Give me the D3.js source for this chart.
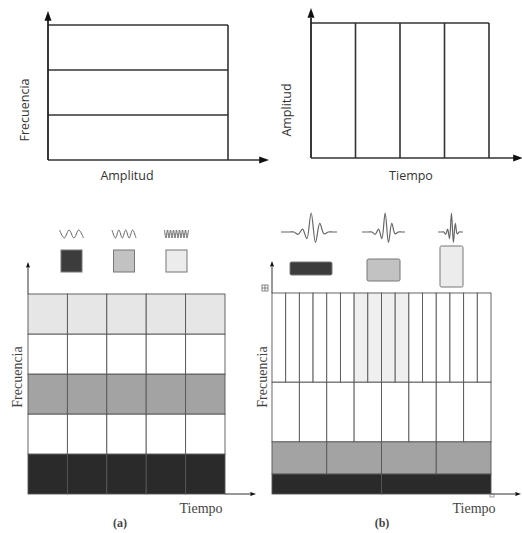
<!DOCTYPE html>
<html>
<head>
<meta charset="utf-8">
<script src="https://cdn.jsdelivr.net/npm/d3@7"></script>
<style>
  body { margin: 0; background: #fff; }
  svg { display: block; }
  .sans { font-family: "Open Sans", sans-serif; fill: #333; }
  .serif { font-family: "Liberation Serif", serif; fill: #444; }
</style>
</head>
<body>
<script>
// top-left: frequency bands (Fourier)
var ftBands = [0, 1, 2, 3];
// top-right: time slices (sampling)
var timeSlices = [0, 1, 2, 3, 4];
// (a) STFT rows, bottom to top
var stftRows = ['#2a2a2a', '#ffffff', '#a3a3a3', '#ffffff', '#e6e6e6'];
var stftCols = 5;
var stftIcons = [
  { cycles: 2.5, fill: '#3c3c3c' },
  { cycles: 3.5, fill: '#c2c2c2' },
  { cycles: 8, fill: '#ececec' }
];
// (b) wavelet tiling, bottom to top
var wtBounds = [0, 0.1, 0.26, 0.557, 1];
var wtCols = [2, 4, 8, 16];
var wtFills = ['#2a2a2a', '#a3a3a3', '#ffffff', '#ffffff'];
var wtShaded = [6, 7, 8, 9]; // shaded cells in top band
// wavelet shape samples, read from icon
var waveletShape = [0, 0, 0, 0, -0.12, 0.15, -0.35, 1, -0.55, 0.45, -0.1, 0, 0, 0];
var wtIcons = [
  { x0: 281, x1: 337, box: [290, 262, 42, 13], fill: '#3c3c3c' },
  { x0: 362, x1: 405, box: [367, 259, 33, 22], fill: '#c2c2c2' },
  { x0: 438, x1: 463, box: [440, 246, 23, 41], fill: '#ececec' }
];

var width = 522, height = 533;
var svg = d3.select('body').append('svg').attr('width', width).attr('height', height);

function arrow(g, x, y, dir, s) {
  var p;
  if (dir === 'up') p = [[x, y], [x - s / 2, y + s * 1.4], [x + s / 2, y + s * 1.4]];
  else p = [[x, y], [x - s * 1.4, y - s / 2], [x - s * 1.4, y + s / 2]];
  g.append('path').attr('d', 'M' + p.join('L') + 'Z').attr('fill', '#111');
}

// ---- top-left
(function() {
  var x = d3.scaleLinear().domain([0, 1]).range([48, 228]);
  var y = d3.scaleLinear().domain([0, 3]).range([160, 25]);
  var g = svg.append('g');
  g.selectAll('line.band').data(ftBands).enter().append('line')
    .attr('x1', x(0)).attr('x2', x(1))
    .attr('y1', d => y(d)).attr('y2', d => y(d))
    .attr('stroke', '#333').attr('stroke-width', 1.6);
  g.append('line').attr('x1', x(1)).attr('x2', x(1)).attr('y1', y(0)).attr('y2', y(3))
    .attr('stroke', '#333').attr('stroke-width', 1.6);
  g.append('line').attr('x1', x(0)).attr('x2', x(0)).attr('y1', y(0)).attr('y2', 20)
    .attr('stroke', '#222').attr('stroke-width', 1.8);
  arrow(g, x(0), 11, 'up', 7);
  g.append('line').attr('x1', x(1)).attr('x2', 262).attr('y1', y(0)).attr('y2', y(0))
    .attr('stroke', '#333').attr('stroke-width', 1.6);
  arrow(g, 269, y(0), 'right', 7);
  g.append('text').attr('class', 'sans').attr('font-size', 12.5)
    .attr('transform', 'translate(29,110) rotate(-90)').attr('text-anchor', 'middle')
    .text('Frecuencia');
  g.append('text').attr('class', 'sans').attr('font-size', 12.5)
    .attr('x', 127).attr('y', 180).attr('text-anchor', 'middle').text('Amplitud');
})();

// ---- top-right
(function() {
  var x = d3.scaleLinear().domain([0, 4]).range([311, 489]);
  var y = d3.scaleLinear().domain([0, 1]).range([158, 23]);
  var g = svg.append('g');
  g.selectAll('line.slice').data(timeSlices.slice(1)).enter().append('line')
    .attr('x1', d => x(d)).attr('x2', d => x(d))
    .attr('y1', y(0)).attr('y2', y(1))
    .attr('stroke', '#333').attr('stroke-width', 1.6);
  g.append('line').attr('x1', x(0)).attr('x2', x(4)).attr('y1', y(1)).attr('y2', y(1))
    .attr('stroke', '#333').attr('stroke-width', 1.6);
  g.append('line').attr('x1', x(0)).attr('x2', x(0)).attr('y1', y(0)).attr('y2', 18)
    .attr('stroke', '#222').attr('stroke-width', 1.8);
  arrow(g, x(0), 8, 'up', 7);
  g.append('line').attr('x1', x(0)).attr('x2', 516).attr('y1', y(0)).attr('y2', y(0))
    .attr('stroke', '#333').attr('stroke-width', 1.6);
  arrow(g, 523, y(0), 'right', 7);
  g.append('text').attr('class', 'sans').attr('font-size', 12.5)
    .attr('transform', 'translate(291,110) rotate(-90)').attr('text-anchor', 'middle')
    .text('Amplitud');
  g.append('text').attr('class', 'sans').attr('font-size', 12.5)
    .attr('x', 411).attr('y', 180).attr('text-anchor', 'middle').text('Tiempo');
})();

// ---- (a) STFT
(function() {
  var x = d3.scaleLinear().domain([0, stftCols]).range([28, 225]);
  var y = d3.scaleLinear().domain([0, stftRows.length]).range([494, 294]);
  var g = svg.append('g');
  var cells = [];
  stftRows.forEach(function(c, r) {
    d3.range(stftCols).forEach(function(k) { cells.push({ r: r, k: k, fill: c }); });
  });
  g.selectAll('rect.cell').data(cells).enter().append('rect')
    .attr('x', d => x(d.k)).attr('y', d => y(d.r + 1))
    .attr('width', x(1) - x(0)).attr('height', y(0) - y(1))
    .attr('fill', d => d.fill).attr('stroke', '#555').attr('stroke-width', 0.9);
  // axes
  g.append('line').attr('x1', x(0)).attr('x2', x(0)).attr('y1', y(stftRows.length)).attr('y2', 268)
    .attr('stroke', '#333');
  arrow(g, x(0), 262, 'up', 4);
  g.append('line').attr('x1', x(stftCols)).attr('x2', 250).attr('y1', y(0)).attr('y2', y(0))
    .attr('stroke', '#333');
  arrow(g, 256, y(0), 'right', 4);
  // legend icons
  var iconX = d3.scalePoint().domain(d3.range(stftIcons.length)).range([71.5, 176.5]);
  stftIcons.forEach(function(ic, i) {
    var cx = iconX(i), w = 24, n = Math.round(ic.cycles * 2);
    var pts = d3.range(n + 1).map(j => [cx - w / 2 + j * w / n, j % 2 ? 238 : 230]);
    g.append('path').attr('d', d3.line().curve(d3.curveCardinal)(pts))
      .attr('fill', 'none').attr('stroke', '#666').attr('stroke-width', 1);
    g.append('rect').attr('x', cx - 10.5).attr('y', 250).attr('width', 21).attr('height', 22)
      .attr('fill', ic.fill).attr('stroke', '#777').attr('stroke-width', 1);
  });
  g.append('text').attr('class', 'serif').attr('font-size', 14)
    .attr('transform', 'translate(22,377) rotate(-90)').attr('text-anchor', 'middle')
    .text('Frecuencia');
  g.append('text').attr('class', 'serif').attr('font-size', 14)
    .attr('x', 201).attr('y', 513).attr('text-anchor', 'middle').text('Tiempo');
  g.append('text').attr('class', 'serif').attr('font-size', 12).attr('font-weight', 'bold')
    .attr('x', 120).attr('y', 527).attr('text-anchor', 'middle').text('(a)');
})();

// ---- (b) wavelet
(function() {
  var x = d3.scaleLinear().domain([0, 1]).range([272, 491]);
  var y = d3.scaleLinear().domain([0, 1]).range([494, 293]);
  var g = svg.append('g');
  var cells = [];
  wtCols.forEach(function(n, b) {
    d3.range(n).forEach(function(k) {
      var fill = wtFills[b];
      if (b === wtCols.length - 1 && wtShaded.indexOf(k) >= 0) fill = '#efefef';
      cells.push({ x0: k / n, x1: (k + 1) / n, y0: wtBounds[b], y1: wtBounds[b + 1], fill: fill });
    });
  });
  g.selectAll('rect.cell').data(cells).enter().append('rect')
    .attr('x', d => x(d.x0)).attr('y', d => y(d.y1))
    .attr('width', d => x(d.x1) - x(d.x0)).attr('height', d => y(d.y0) - y(d.y1))
    .attr('fill', d => d.fill).attr('stroke', '#555').attr('stroke-width', 0.9);
  g.append('line').attr('x1', x(0)).attr('x2', x(0)).attr('y1', y(1)).attr('y2', 267)
    .attr('stroke', '#333');
  arrow(g, x(0), 261, 'up', 4);
  g.append('line').attr('x1', x(1)).attr('x2', 515).attr('y1', y(0)).attr('y2', y(0))
    .attr('stroke', '#333');
  arrow(g, 521, y(0), 'right', 4);
  // small marks
  g.append('rect').attr('x', 262).attr('y', 285).attr('width', 6).attr('height', 6)
    .attr('fill', 'none').attr('stroke', '#666').attr('stroke-width', 0.8);
  g.append('path').attr('d', 'M262,288H268M265,285V291').attr('stroke', '#666').attr('stroke-width', 0.8);
  g.append('rect').attr('x', 490).attr('y', 494).attr('width', 4).attr('height', 3)
    .attr('fill', 'none').attr('stroke', '#777').attr('stroke-width', 0.7);
  // legend
  wtIcons.forEach(function(ic) {
    var sx = d3.scaleLinear().domain([0, waveletShape.length - 1]).range([ic.x0, ic.x1]);
    var sy = d3.scaleLinear().domain([0, 1]).range([232, 213]);
    var line = d3.line().x((d, i) => sx(i)).y(d => sy(d)).curve(d3.curveCatmullRom);
    g.append('path').attr('d', line(waveletShape))
      .attr('fill', 'none').attr('stroke', '#666').attr('stroke-width', 1.2);
    g.append('rect').attr('x', ic.box[0]).attr('y', ic.box[1])
      .attr('width', ic.box[2]).attr('height', ic.box[3]).attr('rx', 1.5)
      .attr('fill', ic.fill).attr('stroke', '#777').attr('stroke-width', 1);
  });
  g.append('text').attr('class', 'serif').attr('font-size', 14)
    .attr('transform', 'translate(267,377) rotate(-90)').attr('text-anchor', 'middle')
    .text('Frecuencia');
  g.append('text').attr('class', 'serif').attr('font-size', 14)
    .attr('x', 474).attr('y', 513).attr('text-anchor', 'middle').text('Tiempo');
  g.append('text').attr('class', 'serif').attr('font-size', 12).attr('font-weight', 'bold')
    .attr('x', 382).attr('y', 527).attr('text-anchor', 'middle').text('(b)');
})();
</script>
</body>
</html>
